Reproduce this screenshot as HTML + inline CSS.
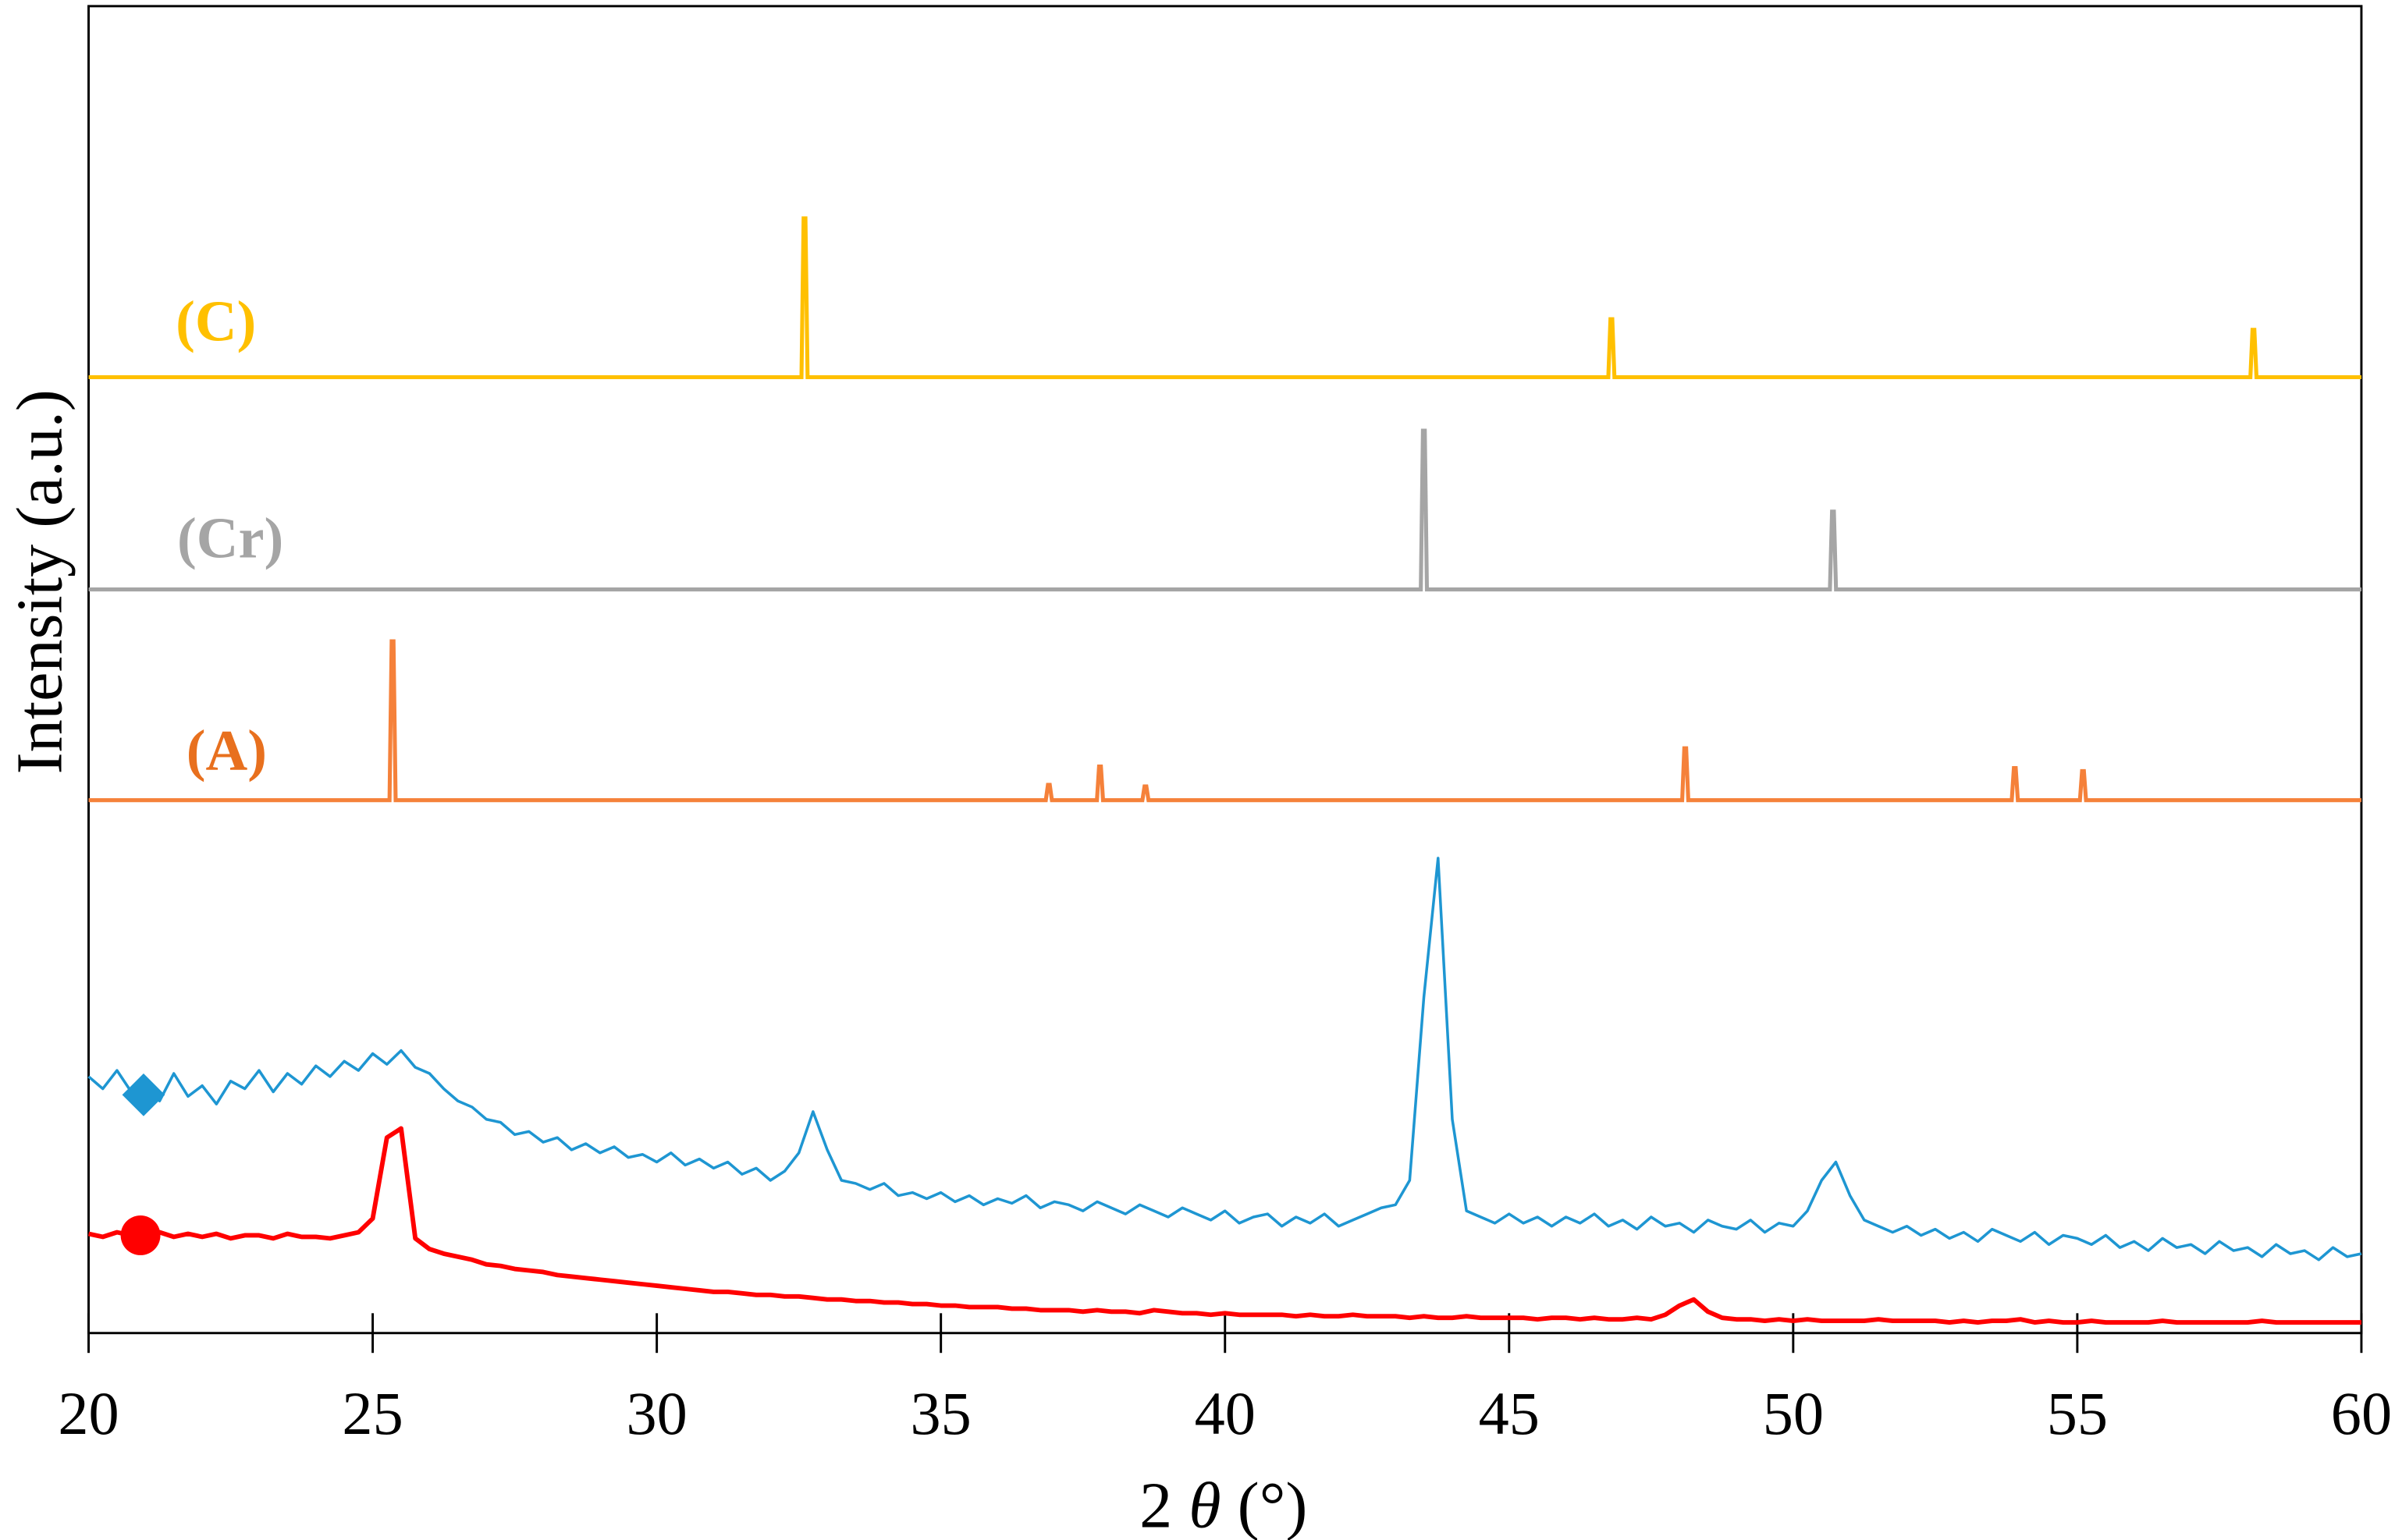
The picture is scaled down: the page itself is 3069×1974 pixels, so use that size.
<!DOCTYPE html>
<html><head><meta charset="utf-8"><style>
html,body{margin:0;padding:0;background:#fff;}
svg{display:block;}
text{font-family:"Liberation Serif",serif;}
</style></head><body>
<svg id="chart" width="3069" height="1974" viewBox="0 0 1568 1008.5" xmlns="http://www.w3.org/2000/svg">
<rect x="58" y="4" width="1488" height="869" fill="none" stroke="#000" stroke-width="1.5"/>
<g id="ticks"></g>
<g id="series"></g>
<text x="801" y="1000" font-size="43" text-anchor="middle">2 <tspan font-style="italic">θ</tspan> (°)</text>
<text transform="translate(40,381) rotate(-90)" font-size="43" text-anchor="middle">Intensity (a.u.)</text>
<text x="115" y="223" font-size="38" font-weight="bold" fill="#FFC000">(C)</text>
<text x="116" y="365" font-size="38" font-weight="bold" fill="#A5A5A5">(Cr)</text>
<text x="122" y="504" font-size="38" font-weight="bold" fill="#E8701E">(A)</text>
<path d="M94,703 L108,717 L94,731 L80,717 Z" fill="#1E96D2"/>
<circle cx="92" cy="809" r="13" fill="#FF0000"/>
</svg>
<script>
const xTicks=[20,25,30,35,40,45,50,55,60];
// reference stick patterns: positions (2θ) and heights (a.u.)
const cPos=[32.6,46.8,58.1];
const cH=[104,38,31];
const crPos=[43.5,50.7];
const crH=[104,51];
const aPos=[25.35,36.9,37.8,38.6,48.1,53.9,55.1];
const aH=[104,10,22,9,34,21,19];
// measured patterns, sampled every 0.25° from 20 to 60
const blueY=[168,160,172,158,165,152,170,155,162,150,165,160,172,158,170,163,175,168,178,172,183,176,185,174,170,160,152,148,140,138,130,132,125,128,120,124,118,122,115,117,112,118,110,114,108,112,104,108,100,106,118,145,120,100,98,94,98,90,92,88,92,86,90,84,88,85,90,82,86,84,80,86,82,78,84,80,76,82,78,74,80,72,76,78,70,76,72,78,70,74,78,82,84,100,220,311,140,80,76,72,78,72,76,70,76,72,78,70,74,68,76,70,72,66,74,70,68,74,66,72,70,80,100,112,90,74,70,66,70,64,68,62,66,60,68,64,60,66,58,64,62,58,64,56,60,54,62,56,58,52,60,54,56,50,58,52,54,48,56,50,52];
const redY=[65,63,66,64,64,66,63,65,63,65,62,64,64,62,65,63,63,62,64,66,75,128,134,62,55,52,50,48,45,44,42,41,40,38,37,36,35,34,33,32,31,30,29,28,27,27,26,25,25,24,24,23,22,22,21,21,20,20,19,19,18,18,17,17,17,16,16,15,15,15,14,15,14,14,13,15,14,13,13,12,13,12,12,12,12,11,12,11,11,12,11,11,11,10,11,10,10,11,10,10,10,10,9,10,10,9,10,9,9,10,9,12,18,22,14,10,9,9,8,9,8,9,8,8,8,8,9,8,8,8,8,7,8,7,8,8,9,7,8,7,7,8,7,7,7,7,8,7,7,7,7,7,7,8,7,7,7,7,7,7,7];
const X0=20,X1=60,PX0=58,PX1=1546,AXY=873;
const sx=v=>PX0+(v-X0)/(X1-X0)*(PX1-PX0);
const sy=(base,h)=>base-h;
const NS="http://www.w3.org/2000/svg";
const tg=document.getElementById('ticks'),sg=document.getElementById('series');
function mk(tag,attrs,parent){const e=document.createElementNS(NS,tag);for(const k in attrs)e.setAttribute(k,attrs[k]);parent.appendChild(e);return e;}
xTicks.forEach(t=>{
  const l=mk('line',{x1:sx(t),x2:sx(t),y1:860,y2:886,stroke:'#000','stroke-width':1.5},tg);
  
  
  const tx=mk('text',{x:sx(t),y:939,'font-size':40,'text-anchor':'middle'},tg);
  tx.textContent=t;
  
  
});
function sticks(pos,h,base,color,name){
  let d=`M${PX0},${base}`;
  pos.forEach((p,i)=>{const x=sx(p);d+=` L${x-2},${base} L${x-0.6},${sy(base,h[i])} L${x+0.6},${sy(base,h[i])} L${x+2},${base}`;});
  d+=` L${PX1},${base}`;
  const e=mk('path',{d:d,fill:'none',stroke:color,'stroke-width':2.6},sg);
  
  
}
sticks(cPos,cH,247,'#FFC000','pattern-c');
sticks(crPos,crH,386,'#A5A5A5','pattern-cr');
sticks(aPos,aH,524,'#F5813A','pattern-a');
function curve(arr,color,w,name){
  const d=arr.map((v,i)=>(i?'L':'M')+sx(X0+i*0.25).toFixed(2)+','+sy(AXY,v)).join(' ');
  const e=mk('path',{d:d,fill:'none',stroke:color,'stroke-width':w,'stroke-linejoin':'round'},sg);
  
  
}
curve(blueY,'#1E96D2',1.8,'blue-sample-curve');
curve(redY,'#FF0000',3,'red-sample-curve');
</script>
</body></html>
